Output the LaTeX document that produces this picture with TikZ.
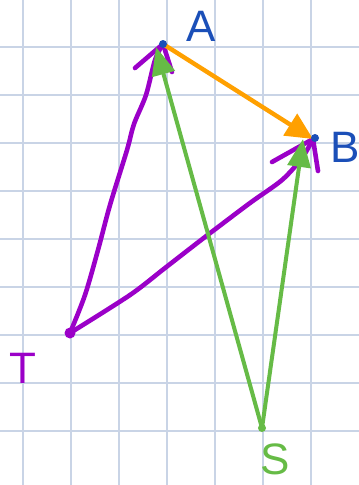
\documentclass[tikz,border=0pt]{standalone}
\usepackage{fontspec}
\setmainfont{Liberation Sans}
\usetikzlibrary{arrows.meta}
\definecolor{gridc}{HTML}{C9D4E6}
\definecolor{purp}{HTML}{9B00C8}
\definecolor{orng}{HTML}{FFA000}
\definecolor{grn}{HTML}{66BB46}
\definecolor{lblue}{HTML}{1B4FB8}
\begin{document}
\begin{tikzpicture}[x=1pt,y=-1pt,
  gridline/.style={gridc,line width=1.6pt},
  pen/.style={line width=4.6pt,line cap=round,line join=round},
  lbl/.style={font=\fontsize{44}{44}\selectfont,inner sep=0pt},
  otip/.style={-{Triangle[length=27pt,width=25pt]}},
  gtip/.style={-{Triangle[length=28pt,width=23pt]}}]
\useasboundingbox (0,0) rectangle (359,485);
\fill[white] (0,0) rectangle (359,485);
\foreach \x in {23,71,...,311} \draw[gridline] (\x,0) -- (\x,485);
\foreach \y in {47,95,...,431} \draw[gridline] (0,\y) -- (359,\y);
% points
\coordinate (A) at (163,44);
\coordinate (B) at (313,139);
\coordinate (T) at (70,333);
\coordinate (S) at (262,428);
\coordinate (Ag) at (156,47);
\coordinate (Bg) at (303,139);
\coordinate (Ab1) at (135,68);
\coordinate (Ab2) at (172,72);
\coordinate (Bb1) at (272,162);
\coordinate (Bb2) at (318,171);
% purple hand-drawn arrows
\draw[purp,pen] plot[smooth,tension=0.5] coordinates {(T) (85,295) (98,250) (110,205) (127,150) (134,124) (146,95) (155,60) (A)};
\draw[purp,pen] (Ab1) -- (A) -- (Ab2);
\draw[purp,pen] plot[smooth,tension=0.5] coordinates {(T) (130,295) (165,268) (205,237) (250,203) (282,180) (302,158) (B)};
\draw[purp,pen] (Bb1) -- (B) -- (Bb2);
% orange
\draw[orng,line width=4.4pt,otip] (A) -- (B);
% green
\draw[grn,line width=4pt,gtip] (S) -- (Ag);
\draw[grn,line width=4pt,gtip] (S) -- (Bg);
% dots
\fill[lblue] (A) circle (4);
\fill[lblue] (B) ++(2,-1) circle (4);
\fill[purp] (T) circle (5.5);
\fill[grn] (S) circle (4);
% labels
\node[lbl,text=lblue] (lA) at (201,26) {A};
\node[lbl,text=lblue] (lB) at (345,147) {B};
\node[lbl,text=purp] (lT) at (23,368) {T};
\node[lbl,text=grn] (lS) at (275,459) {S};
\end{tikzpicture}
\end{document}
